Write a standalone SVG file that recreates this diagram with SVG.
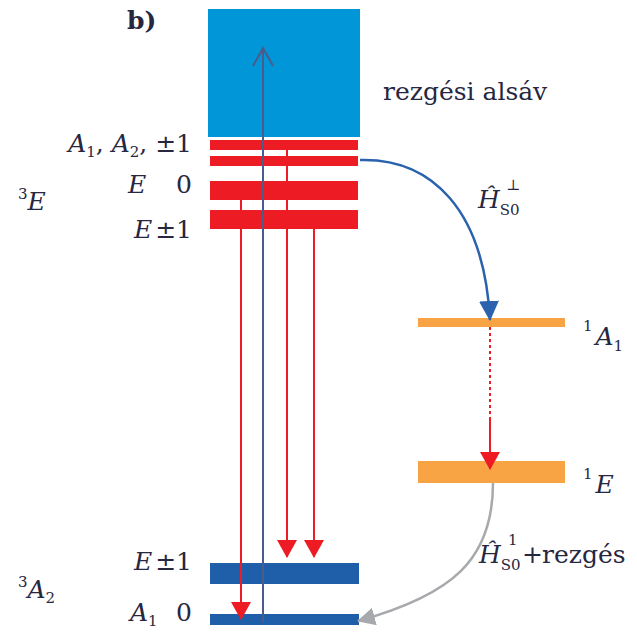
<svg xmlns="http://www.w3.org/2000/svg" width="637" height="637" viewBox="0 0 637 637">
<style>
text{font-family:"DejaVu Serif","Liberation Serif",serif;font-size:25px;fill:#27273f}
.it{font-style:italic}
.sm{font-size:15px}
.red{fill:#ed1c24}
.dblue{fill:#1f5ea8}
.orange{fill:#f8a445}
.rline{stroke:#ed1c24;stroke-width:2;fill:none}
</style>
<defs>
<marker id="arRed" viewBox="0 0 18 20" refX="17" refY="10" markerWidth="18" markerHeight="20" markerUnits="userSpaceOnUse" orient="auto">
<path d="M0,0 L18,10 L0,20 z" fill="#ed1c24"/>
</marker>
<marker id="arBlue" viewBox="0 0 20 20" refX="19" refY="10" markerWidth="20" markerHeight="20" markerUnits="userSpaceOnUse" orient="auto">
<path d="M0,0 L20,10 L0,20 z" fill="#2a62ad"/>
</marker>
<marker id="arGray" viewBox="0 0 18 18" refX="17" refY="9" markerWidth="18" markerHeight="18" markerUnits="userSpaceOnUse" orient="auto">
<path d="M0,0 L18,9 L0,18 z" fill="#a7a9ac"/>
</marker>
</defs>

<text x="127" y="29" font-weight="bold">b)</text>

<g id="vib-band">
<rect x="208" y="9" width="152" height="128" fill="#0096d8"/>
<text x="383" y="100">rezgési alsáv</text>
</g>

<g id="level-3E">
<rect class="red" x="210" y="140" width="148" height="10"/>
<rect class="red" x="210" y="156" width="148" height="10"/>
<rect class="red" x="210" y="181" width="148" height="19"/>
<rect class="red" x="210" y="210" width="148" height="19"/>
<text x="192" y="152" text-anchor="end"><tspan class="it">A</tspan><tspan class="sm" dy="5">1</tspan><tspan dy="-5">, </tspan><tspan class="it">A</tspan><tspan class="sm" dy="5">2</tspan><tspan dy="-5">, ±1</tspan></text>
<text x="128" y="193" class="it">E</text>
<text x="192" y="193" text-anchor="end">0</text>
<text x="192" y="238" text-anchor="end"><tspan class="it">E</tspan><tspan dx="3">±1</tspan></text>
<text x="18" y="210"><tspan class="sm" dy="-11">3</tspan><tspan class="it" dy="11">E</tspan></text>
</g>

<g id="level-3A2">
<rect class="dblue" x="210" y="563" width="149" height="21"/>
<rect class="dblue" x="210" y="614" width="149" height="11"/>
<text x="192" y="570" text-anchor="end"><tspan class="it">E</tspan><tspan dx="3">±1</tspan></text>
<text x="130" y="621"><tspan class="it">A</tspan><tspan class="sm" dy="5">1</tspan></text>
<text x="192" y="621" text-anchor="end">0</text>
<text x="18" y="598"><tspan class="sm" dy="-11">3</tspan><tspan class="it" dy="11">A</tspan><tspan class="sm" dy="5">2</tspan></text>
</g>

<g id="level-1A1">
<rect class="orange" x="418" y="318" width="147" height="9"/>
<text x="583" y="345"><tspan class="sm" dy="-14">1</tspan><tspan class="it" dx="3" dy="14">A</tspan><tspan class="sm" dy="6">1</tspan></text>
</g>

<g id="level-1E">
<rect class="orange" x="418" y="461" width="147" height="22"/>
<text x="583" y="493"><tspan class="sm" dy="-14">1</tspan><tspan class="it" dx="3" dy="14">E</tspan></text>
</g>

<g id="connectors">
<line x1="263" y1="622" x2="263" y2="48" stroke="#4b5b8c" stroke-width="2"/>
<polyline points="253,66 263,48 273,66" fill="none" stroke="#4b5b8c" stroke-width="2"/>
<line class="rline" x1="241" y1="200" x2="241" y2="619" marker-end="url(#arRed)"/>
<line class="rline" x1="287" y1="150" x2="287" y2="557" marker-end="url(#arRed)"/>
<line class="rline" x1="314" y1="229" x2="314" y2="557" marker-end="url(#arRed)"/>
<path d="M360,160 C432,158 484,210 490,320" fill="none" stroke="#2a62ad" stroke-width="2.5" marker-end="url(#arBlue)"/>
<line x1="490" y1="327" x2="490" y2="420" stroke="#ed1c24" stroke-width="2" stroke-dasharray="3,3"/>
<line class="rline" x1="490" y1="420" x2="490" y2="469" marker-end="url(#arRed)"/>
<path d="M493,483 C493,560 452,595 358,621" fill="none" stroke="#a7a9ac" stroke-width="2.5" marker-end="url(#arGray)"/>
<text x="478" y="208"><tspan class="it">Ĥ</tspan><tspan class="sm" dy="7">S0</tspan><tspan class="sm" x="506" dy="-25">⊥</tspan></text>
<text x="479" y="563"><tspan class="it">Ĥ</tspan><tspan class="sm" dy="7">S0</tspan><tspan class="sm" x="508" dy="-25">1</tspan><tspan x="522" dy="18">+</tspan><tspan x="542">rezgés</tspan></text>
</g>
</svg>
